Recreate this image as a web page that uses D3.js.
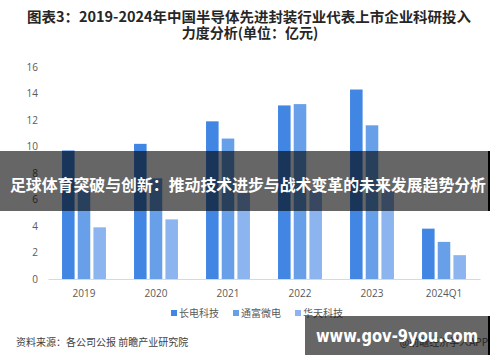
<!DOCTYPE html>
<html>
<head>
<meta charset="utf-8">
<script src="https://cdn.jsdelivr.net/npm/d3@7"></script>
<style>
  body { margin: 0; background: #fff; }
  svg { display: block; font-family: "Noto Sans CJK SC", "Noto Sans", sans-serif; }
</style>
</head>
<body>
<svg id="chart" width="500" height="362"></svg>
<script>
const years = ["2019", "2020", "2021", "2022", "2023", "2024Q1"];
const companies = ["长电科技", "通富微电", "华天科技"];
const changdian = [9.7, 10.2, 11.9, 13.1, 14.3, 3.8];
const tongfu = [6.7, 7.6, 10.6, 13.2, 11.6, 2.8];
const huatian = [3.9, 4.5, 6.5, 6.7, 6.7, 1.8];
const yTicks = [0, 2, 4, 6, 8, 10, 12, 14, 16];
const colors = ["#4186e2", "#67a0e9", "#8cb5f0"];

const series = [changdian, tongfu, huatian];
const rows = years.map((yr, i) => ({ year: yr, values: series.map(s => s[i]) }));

const svg = d3.select("#chart");
const plotLeft = 48, plotRight = 480, plotTop = 67, plotBottom = 279;

// title
const title = svg.append("g").attr("font-weight", "bold").attr("fill", "#262626")
  .attr("font-size", 14).attr("text-anchor", "middle");
title.append("text").attr("x", 249).attr("y", 22).attr("textLength", 444).attr("lengthAdjust", "spacingAndGlyphs")
  .text("图表3：2019-2024年中国半导体先进封装行业代表上市企业科研投入");
title.append("text").attr("x", 250).attr("y", 38).text("力度分析(单位：亿元)");

// scales
const x0 = d3.scaleBand().domain(years).range([plotLeft, plotRight]).paddingInner(0.39).paddingOuter(0.195);
const x1 = d3.scaleBand().domain(d3.range(3)).range([0, x0.bandwidth()]).paddingInner(0.2);
const y = d3.scaleLinear().domain([0, 16]).range([plotBottom, plotTop]);

// y axis
const yAxis = svg.append("g").attr("transform", `translate(${plotLeft},0)`)
  .call(d3.axisLeft(y).tickValues(yTicks).tickSize(0).tickPadding(10));
yAxis.select(".domain").remove();
yAxis.selectAll("text").attr("fill", "#595959").attr("font-size", 10)
  .attr("font-family", "'Open Sans', sans-serif");

// bars
const groups = svg.append("g").selectAll("g").data(rows).enter().append("g")
  .attr("transform", d => `translate(${x0(d.year)},0)`);
groups.selectAll("rect").data(d => d.values).enter().append("rect")
  .attr("x", (d, i) => x1(i))
  .attr("y", d => y(d))
  .attr("width", x1.bandwidth())
  .attr("height", d => plotBottom - y(d))
  .attr("fill", (d, i) => colors[i]);

// x axis
const xAxis = svg.append("g").attr("transform", `translate(0,${plotBottom})`)
  .call(d3.axisBottom(x0).tickSize(0).tickPadding(11));
xAxis.select(".domain").attr("stroke", "#d9d9d9");
xAxis.selectAll("text").attr("fill", "#595959").attr("font-size", 10)
  .attr("font-family", "'Open Sans', sans-serif");

// legend
const legend = svg.append("g").attr("font-size", 10).attr("fill", "#595959");
const legendX = [171, 233, 295];
companies.forEach((c, i) => {
  legend.append("rect").attr("x", legendX[i]).attr("y", 310).attr("width", 6).attr("height", 6)
    .attr("fill", colors[i]);
  legend.append("text").attr("x", legendX[i] + 8).attr("y", 317).text(c);
});

// source
svg.append("text").attr("x", 16).attr("y", 346).attr("font-size", 10).attr("fill", "#404040")
  .text("资料来源：各公司公报 前瞻产业研究院");
svg.append("text").attr("x", 488).attr("y", 346).attr("text-anchor", "end")
  .attr("font-size", 10).attr("fill", "#595959").text("@前瞻经济学人APP");

// overlay banner
svg.append("rect").attr("x", 0).attr("y", 151).attr("width", 490).attr("height", 60)
  .attr("fill", "rgba(0,0,0,0.6)");
svg.append("rect").attr("x", 488).attr("y", 151).attr("width", 2).attr("height", 60).attr("fill", "#000");
svg.append("text").attr("x", 10).attr("y", 191).attr("font-size", 16).attr("font-weight", "bold")
  .attr("textLength", 476).attr("lengthAdjust", "spacingAndGlyphs")
  .attr("fill", "#fff").text("足球体育突破与创新：推动技术进步与战术变革的未来发展趋势分析");

// bottom-right watermark box
svg.append("rect").attr("x", 305).attr("y", 316).attr("width", 185).attr("height", 39)
  .attr("fill", "rgba(0,0,0,0.6)");
svg.append("rect").attr("x", 488).attr("y", 316).attr("width", 2).attr("height", 39).attr("fill", "#000");
svg.append("text").attr("x", 316).attr("y", 342).attr("font-size", 17).attr("font-weight", "bold")
  .attr("textLength", 162).attr("lengthAdjust", "spacingAndGlyphs")
  .attr("font-family", "'DejaVu Sans', sans-serif").attr("fill", "#fff").text("www.gov-9you.com");
</script>
</body>
</html>
